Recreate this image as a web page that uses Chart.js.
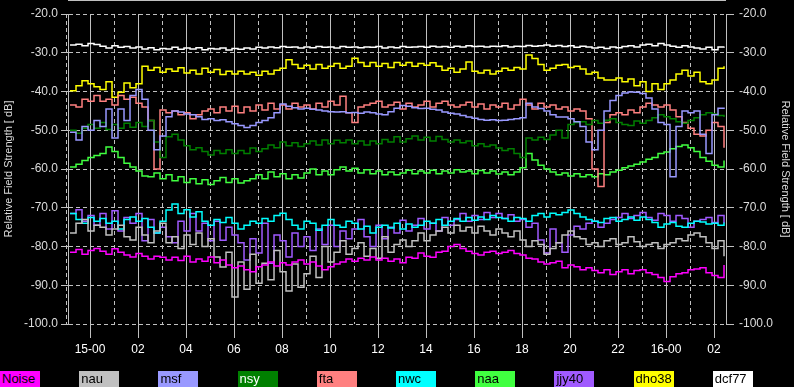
<!DOCTYPE html>
<html>
<head>
<meta charset="utf-8">
<script src="https://cdn.jsdelivr.net/npm/chart.js@4.4.1/dist/chart.umd.min.js"></script>
<style>
  html, body { margin: 0; padding: 0; background: #000; overflow: hidden; }
  #wrap { position: relative; width: 794px; height: 387px; }
  #field-chart { display: block; }
  #legend { position: absolute; left: 0; top: 371px; width: 794px; height: 16px; }
  .key { position: absolute; top: 0; width: 40px; height: 16px; line-height: 16px;
         font: 13px "Liberation Sans", Arial, sans-serif; color: #000; padding-left: 2px;
         box-sizing: border-box; overflow: hidden; white-space: nowrap; }
</style>
</head>
<body>
<div id="wrap">
  <canvas id="field-chart" width="794" height="387"></canvas>
  <div id="legend"></div>
</div>
<script>
// time axis: hours from 15-00, one sample every 15 minutes
const startHour = -0.833;
const stepHours = 0.25;
const xMin = -0.917;
const xMax = 26.5;

const hourTicks = [0, 2, 4, 6, 8, 10, 12, 14, 16, 18, 20, 22, 24, 26];
const hourLabels = ['15-00', '02', '04', '06', '08', '10', '12', '14', '16', '18', '20', '22', '16-00', '02'];
const oddHourTicks = [-1, 1, 3, 5, 7, 9, 11, 13, 15, 17, 19, 21, 23, 25];

const seriesNames = ['Noise', 'nau', 'msf', 'nsy', 'fta', 'nwc', 'naa', 'jjy40', 'dho38', 'dcf77'];
const seriesColors = ['#ff00ff', '#c0c0c0', '#9999ff', '#008000', '#ff8080', '#00ffff', '#40ff40', '#a05aff', '#ffff00', '#ffffff'];
const legendTextColors = ['#000', '#000', '#000', '#fff', '#000', '#000', '#000', '#000', '#000', '#000'];

const noiseVals = [
    -81.5, -80.8, -82.0, -81.0, -80.5, -81.2, -82.0, -80.6, -81.5, -82.2,
    -82.7, -81.8, -82.5, -83.2, -82.5, -82.8, -83.5, -82.8, -83.6, -82.5,
    -84.0, -83.2, -83.8, -82.7, -84.2, -83.5, -84.8, -85.5, -85.0, -86.0,
    -86.5, -85.2, -84.8, -84.0, -85.0, -84.2, -84.8, -84.0, -83.5, -84.5,
    -84.0, -85.0, -86.0, -85.2, -84.5, -84.0, -83.2, -83.8, -83.0, -83.5,
    -82.7, -83.5, -83.0, -83.8, -83.2, -84.2, -82.8, -83.0, -81.7, -82.5,
    -82.8, -81.5, -81.2, -80.0, -79.5, -80.5, -81.2, -81.8, -82.2, -81.5,
    -81.2, -81.8, -81.5, -81.0, -81.8, -82.2, -83.0, -83.2, -84.0, -84.5,
    -84.2, -83.8, -85.5, -84.8, -85.2, -86.0, -85.5, -86.2, -86.8, -86.0,
    -87.2, -86.5, -86.0, -87.0, -86.2, -86.0, -86.8, -87.2, -88.0, -89.0,
    -87.8, -87.0, -86.8, -86.0, -85.8, -85.5, -86.8, -87.5, -88.0, -84.8
];
const nauVals = [
    -76.5, -74.0, -73.0, -76.0, -74.5, -75.0, -77.0, -75.5, -74.5, -77.5,
    -78.3, -75.0, -77.0, -79.0, -76.0, -74.0, -79.0, -77.5, -80.5, -77.0,
    -79.5, -76.5, -80.0, -78.0, -82.7, -85.3, -81.5, -93.0, -84.0, -91.0,
    -82.0, -89.5, -84.3, -88.6, -81.0, -86.5, -91.5, -84.5, -90.5, -87.0,
    -82.5, -88.0, -80.0, -84.0, -81.5, -78.5, -82.0, -80.5, -79.0, -82.5,
    -80.5, -83.0, -77.5, -81.5, -79.5, -78.3, -80.0, -78.5, -76.5, -78.5,
    -77.0, -76.0, -75.0, -76.5, -74.5, -76.0, -75.0, -76.5, -74.8, -76.0,
    -77.0, -75.5, -76.5, -77.5, -76.0, -78.3, -80.0, -78.5, -79.5, -82.0,
    -80.5, -79.0, -77.0, -76.0, -77.5, -78.0, -79.5, -79.0, -80.0, -78.5,
    -78.0, -79.5, -79.0, -77.5, -78.8, -80.0, -79.5, -79.0, -80.5, -79.5,
    -79.0, -78.0, -78.5, -77.0, -76.5, -77.5, -79.0, -80.5, -78.5, -82.5
];
const msfVals = [
    -50.5, -52.5, -49.0, -50.0, -47.5, -49.0, -44.5, -52.0, -44.5, -47.5,
    -41.0, -39.5, -42.0, -50.0, -55.0, -51.5, -46.5, -45.0, -45.3, -45.8,
    -46.0, -46.5, -47.2, -47.0, -47.5, -47.3, -47.8, -48.3, -48.8, -49.3,
    -48.8, -48.0, -47.5, -46.8, -45.5, -43.2, -43.8, -44.2, -44.5, -44.3,
    -44.6, -44.8, -45.0, -45.2, -45.3, -45.2, -45.5, -45.4, -45.6, -45.3,
    -45.5, -45.8, -46.0, -45.2, -44.3, -43.6, -43.8, -44.2, -44.4, -44.3,
    -44.6, -44.8, -45.3, -45.6, -45.8, -46.2, -46.6, -46.9, -47.2, -47.4,
    -47.3, -47.5, -47.4, -47.2, -47.0, -46.8, -43.0, -44.0, -44.4, -45.0,
    -46.0, -46.6, -46.6, -47.0, -47.8, -49.0, -53.0, -55.0, -50.0, -45.0,
    -42.3, -41.0, -40.4, -40.1, -40.2, -40.5, -41.7, -44.5, -48.0, -48.5,
    -62.0, -49.0, -45.0, -45.5, -45.0, -51.0, -56.0, -46.0, -44.3, -44.5
];
const nsyVals = [
    -50.0, -50.8, -49.5, -48.5, -49.5, -48.0, -49.8, -48.5, -49.5, -48.2,
    -49.2, -48.0, -49.0, -47.5, -53.0, -57.0, -51.7, -51.0, -52.5, -54.0,
    -55.0, -54.5, -55.5, -56.4, -55.2, -56.0, -55.0, -56.0, -55.2, -56.0,
    -54.6, -55.5, -54.8, -53.8, -54.5, -53.0, -54.0, -53.2, -54.2, -53.5,
    -52.8, -53.8, -52.5, -53.5, -52.6, -53.2, -52.5, -53.5, -52.8, -53.8,
    -52.8, -53.5, -52.4, -53.0, -51.7, -53.0, -52.2, -51.5, -52.5, -51.8,
    -52.8, -51.6, -52.4, -53.0, -52.5, -53.2, -52.8, -54.0, -53.5, -54.2,
    -53.8, -54.6, -55.2, -54.8, -56.0, -57.0, -52.0, -52.5, -51.8, -52.4,
    -51.2, -50.0, -52.0, -48.5, -48.0, -47.8, -48.5, -47.5, -48.2, -47.4,
    -47.0, -48.0, -48.5, -48.8, -47.6, -48.2, -47.5, -46.8, -46.0, -46.5,
    -47.0, -47.8, -48.2, -47.5, -46.8, -46.0, -45.5, -45.8, -46.2, -46.6
];
const ftaVals = [
    -43.5, -44.0, -42.0, -42.5, -41.0, -42.5, -42.0, -43.5, -41.0, -42.0,
    -41.5, -43.0, -44.0, -47.5, -60.0, -44.8, -45.5, -45.0, -46.0, -45.5,
    -47.0, -46.0, -45.0, -44.5, -45.5, -44.0, -45.0, -43.8, -45.5, -44.0,
    -45.0, -43.5, -44.8, -43.0, -44.5, -43.5, -44.5, -43.0, -44.0, -43.5,
    -44.5, -43.0, -44.0, -42.5, -43.5, -41.2, -45.5, -48.0, -44.0, -43.5,
    -43.0, -42.5, -44.0, -43.5, -42.8, -44.5, -43.0, -44.0, -43.5, -42.5,
    -44.0, -43.0, -42.5, -43.5, -44.0, -43.5, -42.8, -44.0, -43.2, -44.5,
    -43.5, -44.0, -43.0, -44.5, -43.5, -42.0, -43.5, -44.5, -43.0, -44.0,
    -43.5, -44.5, -44.0, -45.0, -44.5, -45.0, -47.0, -60.0, -64.5, -48.0,
    -46.0, -45.5, -46.0, -44.8, -45.5, -44.0, -43.0, -43.5, -44.0, -43.5,
    -44.8, -46.5, -48.0, -49.5, -51.0, -51.5, -50.0, -48.0, -49.0, -54.5
];
const nwcVals = [
    -71.5, -73.0, -74.0, -72.5, -73.5, -72.8, -74.0, -73.5, -75.5, -73.0,
    -72.4, -73.5, -72.8, -75.0, -76.5, -73.5, -70.6, -69.0, -71.5, -70.5,
    -72.4, -71.0, -73.5, -74.5, -73.0, -73.8, -72.5, -74.0, -75.5, -74.5,
    -73.5, -74.0, -72.8, -73.5, -72.0, -71.4, -73.0, -74.5, -75.5, -73.5,
    -74.0, -75.8, -74.5, -73.0, -74.5, -75.0, -73.5, -74.0, -75.5, -74.8,
    -76.5, -75.0, -74.5, -75.2, -74.0, -75.5, -74.2, -75.0, -74.5, -73.5,
    -74.0, -73.0, -74.5, -73.5, -72.8, -73.5, -72.5, -73.2, -72.4, -73.0,
    -72.0, -72.5, -72.8, -73.5, -72.5, -72.8, -73.5, -72.0, -71.5, -72.4,
    -71.4, -71.8, -71.2, -70.6, -71.5, -72.4, -73.0, -73.5, -73.8, -72.8,
    -72.5, -73.5, -73.0, -72.4, -73.2, -72.4, -73.0, -73.8, -75.0, -74.2,
    -73.8, -74.8, -75.0, -74.0, -73.5, -73.7, -74.2, -74.0, -74.5, -73.8
];
const naaVals = [
    -59.5, -58.8, -57.8, -57.0, -56.5, -56.0, -54.3, -55.5, -57.0, -58.5,
    -59.5, -60.5, -61.8, -62.0, -61.0, -62.5, -61.5, -63.0, -62.0, -63.5,
    -62.5, -63.8, -62.8, -64.0, -63.0, -62.2, -63.5, -62.5, -63.6, -63.0,
    -62.5, -61.5, -62.5, -60.8, -62.0, -61.2, -62.5, -61.5, -62.3, -61.0,
    -60.0, -61.5, -60.5, -61.5, -60.2, -59.5, -60.5, -59.8, -61.0, -60.2,
    -61.2, -60.5, -61.5, -60.8, -61.5, -61.0, -60.3, -61.2, -60.5, -61.0,
    -60.3, -61.2, -60.5, -61.0, -60.2, -60.8, -60.5, -61.2, -60.4, -61.0,
    -60.5, -61.3, -60.8, -61.5, -60.8, -59.7, -56.0, -57.7, -59.0, -60.0,
    -60.8, -61.5, -61.0, -61.8, -61.2, -62.0, -61.5, -62.0, -61.2, -61.5,
    -60.8, -60.3, -59.7, -59.2, -58.8, -58.2, -57.5, -57.0, -56.0, -55.6,
    -54.8, -54.2, -53.8, -54.5, -55.5, -57.0, -58.0, -59.0, -59.5, -57.8
];
const jjy40Vals = [
    -71.5, -70.5, -73.5, -72.0, -74.5, -71.5, -75.5, -70.8, -76.0, -72.5,
    -74.0, -71.5, -78.5, -73.0, -76.5, -75.0, -77.5, -79.0, -73.5, -76.0,
    -71.5, -76.0, -74.0, -78.5, -73.5, -78.4, -75.0, -77.0, -79.0, -83.5,
    -78.0, -81.7, -74.0, -84.3, -77.0, -78.5, -82.7, -76.5, -80.0, -77.5,
    -81.0, -75.5, -79.5, -74.5, -80.0, -76.0, -78.0, -75.5, -73.0, -77.5,
    -80.0, -74.5, -78.0, -75.0, -76.5, -73.2, -76.0, -74.5, -72.8, -75.5,
    -74.0, -76.0, -72.5, -74.5, -73.0, -71.5, -73.5, -72.0, -73.0, -71.2,
    -72.5, -71.5, -72.8, -71.8, -73.5, -73.0, -75.0, -74.0, -78.3, -81.7,
    -75.5, -79.0, -81.5, -77.0, -74.8, -75.5, -74.0, -73.5, -75.0, -74.0,
    -73.0, -72.5, -71.5, -72.8, -72.0, -71.2, -72.5, -73.2, -71.5, -72.0,
    -73.5, -72.0, -72.8, -75.0, -73.5, -73.0, -72.5, -73.8, -72.0, -74.0
];
const dho38Vals = [
    -39.8, -38.5, -37.2, -38.0, -38.8, -39.5, -37.5, -41.5, -40.2, -37.8,
    -39.0, -38.0, -33.5, -34.5, -33.8, -35.0, -34.2, -34.8, -33.9, -35.2,
    -34.5, -35.5, -34.0, -35.0, -34.3, -35.6, -34.8, -35.5, -34.8, -35.5,
    -35.0, -35.8, -34.8, -35.5, -34.5, -34.0, -31.8, -33.0, -34.0, -33.2,
    -34.2, -33.0, -34.0, -33.5, -32.8, -34.0, -33.5, -31.4, -32.5, -33.5,
    -32.5, -33.5, -32.8, -33.8, -32.5, -33.2, -32.5, -33.5, -32.8, -33.2,
    -32.6, -33.5, -34.5, -34.0, -35.0, -34.2, -32.4, -34.8, -35.2, -34.5,
    -35.5, -34.8, -34.0, -34.5, -33.8, -34.2, -30.6, -31.5, -33.0, -34.5,
    -34.0, -33.2, -33.0, -33.8, -33.5, -34.2, -35.5, -35.0, -36.5, -37.0,
    -37.0, -36.5, -37.5, -36.8, -38.5, -37.5, -40.0, -38.0, -39.5, -38.0,
    -37.0, -35.5, -34.5, -36.0, -35.0, -37.5, -38.0, -37.0, -34.0, -33.5
];
const dcf77Vals = [
    -28.0, -27.8, -28.2, -27.6, -27.9, -28.3, -28.8, -28.2, -28.6, -28.4,
    -28.8, -28.5, -29.0, -28.7, -29.2, -28.9, -29.0, -28.6, -29.1, -28.8,
    -29.0, -28.7, -29.2, -28.9, -29.0, -28.8, -29.3, -28.9, -29.1, -28.8,
    -29.0, -28.6, -28.8, -28.5, -28.7, -28.4, -28.6, -28.5, -28.8, -28.5,
    -28.7, -28.4, -28.6, -28.5, -28.8, -28.4, -28.6, -28.5, -28.7, -28.5,
    -28.6, -28.4, -28.8, -28.5, -28.7, -28.4, -28.6, -28.5, -28.4, -28.6,
    -28.3, -28.5, -28.4, -28.6, -28.3, -28.5, -28.2, -28.4, -28.3, -28.5,
    -28.3, -28.4, -28.2, -28.5, -28.3, -28.4, -28.1, -28.3, -28.2, -28.0,
    -28.3, -28.1, -28.4, -28.2, -28.6, -28.3, -28.5, -28.8, -28.6, -28.9,
    -28.5, -28.7, -28.4, -28.2, -28.5, -28.0, -27.8, -28.2, -27.6, -28.0,
    -28.3, -28.6, -28.2, -28.5, -28.8, -29.0, -28.6, -29.2, -28.5, -28.4
];

const seriesValues = [noiseVals, nauVals, msfVals, nsyVals, ftaVals, nwcVals, naaVals, jjy40Vals, dho38Vals, dcf77Vals];

const fontFamily = '"Liberation Sans", Arial, sans-serif';
const gridColor = '#c0c0c0';
const axisTitle = 'Relative Field Strength [ dB]';

const datasets = seriesNames.map((name, k) => ({
    label: name,
    data: seriesValues[k].map((v, i) => ({ x: startHour + i * stepHours, y: v })),
    borderColor: seriesColors[k],
    backgroundColor: seriesColors[k],
    borderWidth: 1.5,
    pointRadius: 0,
    stepped: true,
    fill: false
}));

// thin grey bar along the top edge, as wide as the plot
const topBar = {
    id: 'topBar',
    afterDraw(chart) {
        const { ctx, chartArea } = chart;
        ctx.save();
        ctx.fillStyle = '#c0c0c0';
        ctx.fillRect(chartArea.left, 0, chartArea.right - chartArea.left, 1);
        ctx.restore();
    }
};

const yTicks = {
    stepSize: 10,
    color: '#dcdcdc',
    font: { family: fontFamily, size: 12 },
    callback: (v) => v.toFixed(1)
};

const ctx = document.getElementById('field-chart');

const chart = new Chart(ctx, {
    type: 'line',
    data: { datasets: datasets },
    plugins: [topBar],
    options: {
        responsive: false,
        animation: false,
        layout: { padding: { top: 14 } },
        plugins: {
            legend: { display: false },
            tooltip: { enabled: false }
        },
        scales: {
            x: {
                type: 'linear',
                position: 'bottom',
                min: xMin,
                max: xMax,
                afterBuildTicks: (s) => { s.ticks = hourTicks.map(v => ({ value: v })); },
                afterFit: (s) => { s.height = 63; },
                ticks: {
                    color: '#ffffff',
                    font: { family: fontFamily, size: 12 },
                    padding: 4,
                    maxRotation: 0,
                    autoSkip: false,
                    callback: (v) => hourLabels[hourTicks.indexOf(v)]
                },
                grid: { color: gridColor, tickLength: 14 },
                border: { display: false }
            },
            x2: {
                type: 'linear',
                position: 'bottom',
                min: xMin,
                max: xMax,
                afterBuildTicks: (s) => { s.ticks = oddHourTicks.map(v => ({ value: v })); },
                afterFit: (s) => { s.height = 0; },
                ticks: { display: false },
                grid: { color: gridColor, drawTicks: false },
                border: { display: false, dash: [4, 3] }
            },
            y: {
                position: 'left',
                min: -100,
                max: -20,
                afterFit: (s) => { s.width = 68; },
                ticks: Object.assign({ padding: 3 }, yTicks),
                grid: { color: gridColor, tickLength: 7 },
                border: { display: true, color: gridColor, dash: [4, 3] },
                title: {
                    display: true,
                    text: axisTitle,
                    color: '#dcdcdc',
                    font: { family: fontFamily, size: 11 },
                    padding: { top: 2, bottom: 0 }
                }
            },
            y2: {
                position: 'right',
                min: -100,
                max: -20,
                afterFit: (s) => { s.width = 68; },
                ticks: Object.assign({ padding: 5 }, yTicks),
                grid: { color: gridColor, tickLength: 8, drawOnChartArea: false },
                border: { display: true, color: gridColor },
                title: {
                    display: true,
                    text: axisTitle,
                    color: '#dcdcdc',
                    font: { family: fontFamily, size: 11 },
                    padding: { top: 2, bottom: 0 }
                }
            }
        }
    }
});

// legend strip: coloured boxes with the station names inside
const legend = document.getElementById('legend');
seriesNames.forEach((name, k) => {
    const box = document.createElement('div');
    box.className = 'key';
    box.style.left = (k * 79.2) + 'px';
    box.style.background = seriesColors[k];
    box.style.color = legendTextColors[k];
    box.textContent = name;
    legend.appendChild(box);
});
</script>
</body>
</html>
